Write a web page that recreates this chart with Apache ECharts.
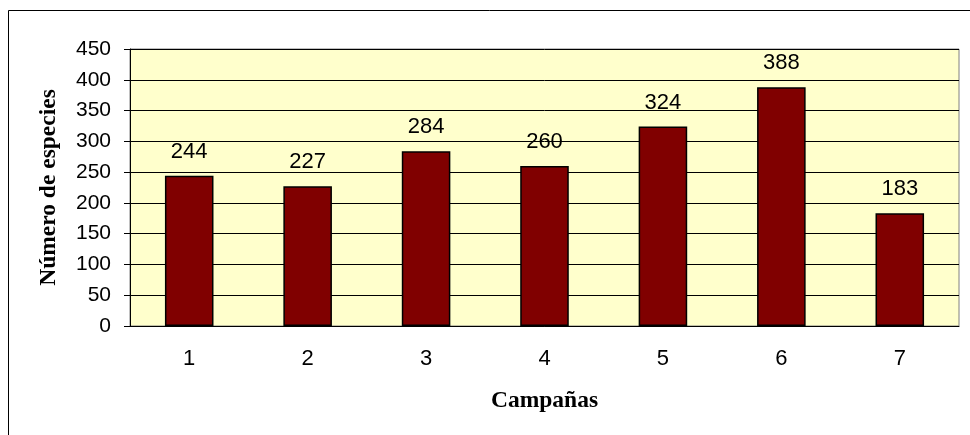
<!DOCTYPE html>
<html lang="es">
  <head>
    <meta charset="UTF-8" />
    <title>Número de especies por campaña</title>
    <script src="https://cdn.jsdelivr.net/npm/echarts@6/dist/echarts.min.js"></script>
    <style>
      body { margin: 0; background: #fff; }
      #chart { width: 970px; height: 435px; }
    </style>
  </head>
  <body>
    <div id="chart"></div>
  </body>
</html>
<script>
  // datos
  const campanas = ["1", "2", "3", "4", "5", "6", "7"];
  const especies = [244, 227, 284, 260, 324, 388, 183];

  const chart = echarts.init(document.getElementById("chart"));
  const option = {
    animation: false,
    backgroundColor: "#fff",
    graphic: [
      {
        type: "rect",
        shape: { x: 8.5, y: 10.5, width: 990, height: 460 },
        style: { fill: "none", stroke: "#000", lineWidth: 1 },
        z: 0,
      },
    ],
    grid: {
      left: 130,
      right: 11,
      top: 49,
      bottom: 109,
      show: true,
      backgroundColor: "#FFFFCC",
      borderColor: "#808080",
      borderWidth: 1,
    },
    xAxis: {
      type: "category",
      data: campanas,
      name: "Campañas",
      nameLocation: "middle",
      nameGap: 63,
      nameTextStyle: {
        fontFamily: "Liberation Serif",
        fontWeight: "bold",
        fontSize: 23.5,
        color: "#000",
      },
      axisLine: { lineStyle: { color: "#000", width: 1 } },
      axisTick: { length: 6, lineStyle: { color: "#000" } },
      axisLabel: {
        margin: 22,
        fontFamily: "Liberation Sans",
        fontSize: 22,
        color: "#000",
      },
    },
    yAxis: {
      type: "value",
      min: 0,
      max: 450,
      interval: 50,
      name: "Número de especies",
      nameLocation: "middle",
      nameGap: 69,
      nameTextStyle: {
        fontFamily: "Liberation Serif",
        fontWeight: "bold",
        fontSize: 23.5,
        color: "#000",
      },
      axisLine: { show: true, lineStyle: { color: "#000", width: 1 } },
      axisTick: { show: true, length: 6, lineStyle: { color: "#000" } },
      axisLabel: {
        margin: 19,
        fontFamily: "Liberation Sans",
        fontSize: 21,
        color: "#000",
      },
      splitLine: { lineStyle: { color: "#000", width: 1 } },
    },
    series: [
      {
        type: "bar",
        data: especies,
        barCategoryGap: "59%",
        itemStyle: { color: "#800000", borderColor: "#000", borderWidth: 1.5 },
        label: {
          show: true,
          position: "top",
          distance: 13,
          fontFamily: "Liberation Sans",
          fontSize: 22,
          color: "#000",
        },
      },
    ],
  };
  chart.setOption(option);
</script>
